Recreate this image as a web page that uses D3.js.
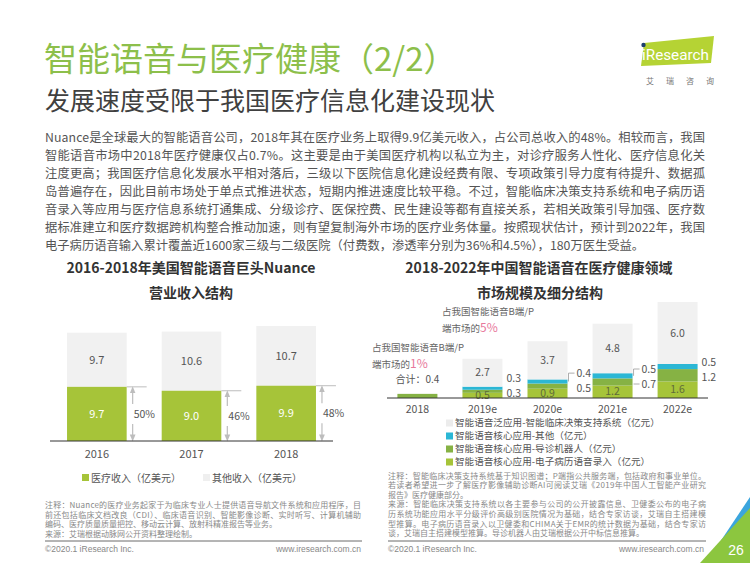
<!DOCTYPE html>
<html><head><meta charset="utf-8">
<script src="https://cdn.jsdelivr.net/npm/d3@7/dist/d3.min.js"></script>
<style>
html,body{margin:0;padding:0;background:#fff;}
svg{display:block;font-family:"Noto Sans CJK SC","Noto Sans",sans-serif;}
</style></head>
<body>
<svg id="c" width="750" height="563"></svg>
<script>
// ---------- data ----------
const leftYears = ["2016", "2017", "2018"];
const medicalRevenue = [9.7, 9.0, 9.9];
const otherRevenue = [9.7, 10.6, 10.7];
const medicalShare = ["50%", "46%", "48%"];

const rightYears = ["2018", "2019e", "2020e", "2021e", "2022e"];
const emrVoiceInput = [0, 0.5, 0.9, 1.2, 1.6];
const guideRobot = [0, 0.3, 0.5, 0.7, 1.2];
const coreOther = [0, 0.3, 0.4, 0.5, 0.5];
const clinicalDecision = [0, 2.7, 3.7, 4.8, 6.0];
const marketTotals = [0.4, 3.8, 5.5, 7.2, 9.3];
const leaderYears = ["2020e", "2021e"];

const leftLegend = ["医疗收入（亿美元）", "其他收入（亿美元）"];
const rightLegend = [
  "智能语音泛应用-智能临床决策支持系统（亿元）",
  "智能语音核心应用-其他（亿元）",
  "智能语音核心应用-导诊机器人（亿元）",
  "智能语音核心应用-电子病历语音录入（亿元）"
];

const paragraph = [
  "Nuance是全球最大的智能语音公司，2018年其在医疗业务上取得9.9亿美元收入，占公司总收入的48%。相较而言，我国",
  "智能语音市场中2018年医疗健康仅占0.7%。这主要是由于美国医疗机构以私立为主，对诊疗服务人性化、医疗信息化关",
  "注度更高；我国医疗信息化发展水平相对落后，三级以下医院信息化建设经费有限、专项政策引导力度有待提升、数据孤",
  "岛普遍存在，因此目前市场处于单点式推进状态，短期内推进速度比较平稳。不过，智能临床决策支持系统和电子病历语",
  "音录入等应用与医疗信息系统打通集成、分级诊疗、医保控费、民生建设等都有直接关系，若相关政策引导加强、医疗数",
  "据标准建立和医疗数据跨机构整合推动加速，则有望复制海外市场的医疗业务体量。按照现状估计，预计到2022年，我国",
  "电子病历语音输入累计覆盖近1600家三级与二级医院（付费数，渗透率分别为36%和4.5%），180万医生受益。"
];
const leftNotes = [
  "注释：Nuance的医疗业务起家于为临床专业人士提供语音导航文件系统和应用程序，目",
  "前还包括临床文档改良（CDI）、临床语音识别、智能影像诊断、实时听写、计算机辅助",
  "编码、医疗质量质量把控、移动云计算、放射科精准报告等业务。",
  "来源：艾瑞根据动脉网公开资料整理绘制。"
];
const rightNotes = [
  "注释：智能临床决策支持系统基于知识图谱；P端指公共服务端，包括政府和事业单位。",
  "若读者希望进一步了解医疗影像辅助诊断AI可阅读艾瑞《2019年中国人工智能产业研究",
  "报告》医疗健康部分。",
  "来源：智能临床决策支持系统以各主要参与公司的公开披露信息、卫健委公布的电子病",
  "历系统功能应用水平分级评价高级别医院情况为基础，结合专家访谈，艾瑞自主搭建模",
  "型推算。电子病历语音录入以卫健委和CHIMA关于EMR的统计数据为基础，结合专家访",
  "谈，艾瑞自主搭建模型推算。导诊机器人由艾瑞根据公开中标信息推算。"
];

// ---------- colors ----------
const LIME = "#a6c439", MID = "#86b244", CYAN = "#2cb7d5", GRAY = "#f1f1f1";
const TXT = "#555";

const svg = d3.select("#c");
svg.append("rect").attr("width", 750).attr("height", 563).attr("fill", "#fff");

// ---------- header ----------
svg.append("text").attr("x", 44).attr("y", 71).attr("font-size", 33).attr("fill", "#8dbf4b")
  .text("智能语音与医疗健康（2/2）");
svg.append("text").attr("x", 45).attr("y", 110).attr("font-size", 25).attr("fill", "#404040")
  .text("发展速度受限于我国医疗信息化建设现状");

// logo
svg.append("polygon").attr("points", "644,43 714,36 711,63 641,66").attr("fill", "#b5d334");
svg.append("circle").attr("cx", 643.5).attr("cy", 45).attr("r", 2.2).attr("fill", "#1d3f6e");
svg.append("text").attr("x", 642).attr("y", 60).attr("font-size", 15).attr("fill", "#fff")
  .attr("font-family", "Roboto, sans-serif").attr("textLength", 67).attr("lengthAdjust", "spacingAndGlyphs")
  .text("iResearch");
["艾", "瑞", "咨", "询"].forEach((c, i) => {
  svg.append("text").attr("x", 646 + i * 20).attr("y", 84).attr("font-size", 8).attr("fill", "#777").text(c);
});

// paragraph
paragraph.forEach((line, i) => {
  const t = svg.append("text").attr("x", 45).attr("y", 142 + i * 18).attr("font-size", 12.3)
    .attr("fill", TXT).text(line);
  if (i < paragraph.length - 1) t.attr("textLength", 660).attr("lengthAdjust", "spacing");
});

// ---------- left chart ----------
const lg = svg.append("g");
lg.append("text").attr("x", 191).attr("y", 273).attr("text-anchor", "middle").attr("font-size", 14)
  .attr("font-weight", "bold").attr("fill", "#333").text("2016-2018年美国智能语音巨头Nuance");
lg.append("text").attr("x", 191).attr("y", 298).attr("text-anchor", "middle").attr("font-size", 14)
  .attr("font-weight", "bold").attr("fill", "#333").text("营业收入结构");

const lx = d3.scaleBand().domain(leftYears).range([50, 333]).paddingInner(0.37).paddingOuter(0.18);
const ly = d3.scaleLinear().domain([0, 20.6]).range([441, 326]);
const leftData = leftYears.map((y, i) => ({year: y, med: medicalRevenue[i], oth: otherRevenue[i], share: medicalShare[i]}));

lg.selectAll(".oth").data(leftData).join("rect")
  .attr("x", d => lx(d.year)).attr("width", lx.bandwidth())
  .attr("y", d => ly(d.med + d.oth)).attr("height", d => ly(d.med) - ly(d.med + d.oth)).attr("fill", GRAY);
lg.selectAll(".med").data(leftData).join("rect")
  .attr("x", d => lx(d.year)).attr("width", lx.bandwidth())
  .attr("y", d => ly(d.med)).attr("height", d => ly(0) - ly(d.med)).attr("fill", LIME);
lg.selectAll(".othl").data(leftData).join("text")
  .attr("x", d => lx(d.year) + lx.bandwidth() / 2).attr("y", d => ly(d.med + d.oth / 2))
  .attr("dy", "0.35em").attr("text-anchor", "middle").attr("font-size", 11).attr("fill", TXT)
  .text(d => d.oth.toFixed(1));
lg.selectAll(".medl").data(leftData).join("text")
  .attr("x", d => lx(d.year) + lx.bandwidth() / 2).attr("y", d => ly(d.med / 2))
  .attr("dy", "0.35em").attr("text-anchor", "middle").attr("font-size", 11).attr("fill", "#fff")
  .text(d => d.med.toFixed(1));

// share arrows
const defs = svg.append("defs");
defs.append("marker").attr("id", "ah").attr("viewBox", "0 0 10 10").attr("refX", 5).attr("refY", 5)
  .attr("markerWidth", 6).attr("markerHeight", 6).attr("orient", "auto-start-reverse")
  .append("path").attr("d", "M0,1 L10,5 L0,9 z").attr("fill", "#bdbdbd");
leftData.forEach(d => {
  const r = lx(d.year) + lx.bandwidth();
  const top = ly(d.med), bot = ly(0), mid = (top + bot) / 2;
  const ax = r + 6;
  lg.append("line").attr("x1", r).attr("x2", r + 20).attr("y1", top).attr("y2", top)
    .attr("stroke", "#bdbdbd").attr("stroke-width", 1);
  lg.append("line").attr("x1", ax).attr("x2", ax).attr("y1", mid - 10).attr("y2", top + 3)
    .attr("stroke", "#bdbdbd").attr("stroke-width", 1.2).attr("marker-end", "url(#ah)");
  lg.append("line").attr("x1", ax).attr("x2", ax).attr("y1", mid + 10).attr("y2", bot - 3)
    .attr("stroke", "#bdbdbd").attr("stroke-width", 1.2).attr("marker-end", "url(#ah)");
  lg.append("text").attr("x", ax + 1).attr("y", mid).attr("dy", "0.35em").attr("font-size", 10.5)
    .attr("fill", TXT).text(d.share);
});
lg.append("line").attr("x1", 50).attr("x2", 333).attr("y1", ly(0)).attr("y2", ly(0))
  .attr("stroke", "#333").attr("stroke-width", 1);
const lxAxis = lg.append("g").attr("transform", `translate(0,${ly(0)})`)
  .call(d3.axisBottom(lx).tickSize(0).tickPadding(9));
lxAxis.select(".domain").remove();
lxAxis.selectAll("text").attr("font-size", 11).attr("fill", TXT).attr("font-family", "'Noto Sans CJK SC',sans-serif");

// left legend
const llx = [82, 203], lcol = [LIME, "#efefef"];
leftLegend.forEach((t, i) => {
  lg.append("rect").attr("x", llx[i]).attr("y", 474).attr("width", 7).attr("height", 7).attr("fill", lcol[i]);
  lg.append("text").attr("x", llx[i] + 9).attr("y", 478).attr("dy", "0.35em").attr("font-size", 10)
    .attr("fill", TXT).text(t);
});

// ---------- right chart ----------
const rg = svg.append("g");
rg.append("text").attr("x", 539).attr("y", 273).attr("text-anchor", "middle").attr("font-size", 14)
  .attr("font-weight", "bold").attr("fill", "#333").text("2018-2022年中国智能语音在医疗健康领域");
rg.append("text").attr("x", 540).attr("y", 298).attr("text-anchor", "middle").attr("font-size", 14)
  .attr("font-weight", "bold").attr("fill", "#333").text("市场规模及细分结构");

const rx = d3.scaleBand().domain(rightYears).range([387, 708]).paddingInner(0.385).paddingOuter(0.16);
const ry = d3.scaleLinear().domain([0, 9.3]).range([398, 302]);
const table = rightYears.map((y, i) => ({
  year: y, emr: emrVoiceInput[i], guide: guideRobot[i], other: coreOther[i], cds: clinicalDecision[i], total: marketTotals[i]
}));
const keys = ["emr", "guide", "other", "cds"];
const colors = {emr: LIME, guide: MID, other: CYAN, cds: GRAY};
const stacked = d3.stack().keys(keys)(table.filter(d => d.emr > 0));

rg.selectAll(".ser").data(stacked).join("g").attr("fill", s => colors[s.key])
  .selectAll("rect").data(s => s).join("rect")
  .attr("x", d => rx(d.data.year)).attr("width", rx.bandwidth())
  .attr("y", d => ry(d[1])).attr("height", d => ry(d[0]) - ry(d[1]));

// 2018: total only
const t0 = table.filter(d => d.emr === 0);
rg.selectAll(".tot").data(t0).join("rect")
  .attr("x", d => rx(d.year)).attr("width", rx.bandwidth())
  .attr("y", d => ry(d.total)).attr("height", d => ry(0) - ry(d.total)).attr("fill", MID);
rg.selectAll(".totl").data(t0).join("text")
  .attr("x", d => rx(d.year) + rx.bandwidth() / 2).attr("y", d => ry(d.total) - 14)
  .attr("dy", "0.35em").attr("text-anchor", "middle").attr("font-size", 10).attr("fill", TXT)
  .text(d => "合计：" + d.total.toFixed(1));

const st = table.filter(d => d.emr > 0);
// inside labels
rg.selectAll(".emrl").data(st).join("text")
  .attr("x", d => rx(d.year) + rx.bandwidth() / 2).attr("y", d => ry(d.emr / 2))
  .attr("dy", "0.35em").attr("text-anchor", "middle").attr("font-size", 10.5).attr("fill", "#5f6b3a")
  .text(d => d.emr.toFixed(1));
rg.selectAll(".cdsl").data(st).join("text")
  .attr("x", d => rx(d.year) + rx.bandwidth() / 2).attr("y", d => ry(d.total - d.cds / 2))
  .attr("dy", "0.35em").attr("text-anchor", "middle").attr("font-size", 10.5).attr("fill", TXT)
  .text(d => d.cds.toFixed(1));
// side labels
st.forEach(d => {
  const r = rx(d.year) + rx.bandwidth();
  const lead = leaderYears.includes(d.year);
  const gMid = ry(d.emr + d.guide / 2), oMid = ry(d.emr + d.guide + d.other / 2);
  const gy = gMid + 2;
  const oy = Math.min(oMid, gy - 15);
  const tx = lead ? r + 9 : r + 4;
  rg.append("text").attr("x", tx).attr("y", gy).attr("dy", "0.35em").attr("font-size", 10.5)
    .attr("fill", TXT).text(d.guide.toFixed(1));
  rg.append("text").attr("x", tx).attr("y", oy).attr("dy", "0.35em").attr("font-size", 10.5)
    .attr("fill", TXT).text(d.other.toFixed(1));
  if (lead) {
    rg.append("path").attr("d", `M${r + 1},${oMid} L${r + 1},${oy} L${r + 7},${oy}`)
      .attr("fill", "none").attr("stroke", "#999").attr("stroke-width", 0.8);
    if (d.year === leaderYears[1]) {
      rg.append("path").attr("d", `M${r + 1},${gy} L${r + 7},${gy}`)
        .attr("fill", "none").attr("stroke", "#999").attr("stroke-width", 0.8);
    }
  }
});
rg.append("line").attr("x1", 387).attr("x2", 708).attr("y1", ry(0)).attr("y2", ry(0))
  .attr("stroke", "#333").attr("stroke-width", 1);
const rxAxis = rg.append("g").attr("transform", `translate(0,${ry(0)})`)
  .call(d3.axisBottom(rx).tickSize(0).tickPadding(8));
rxAxis.select(".domain").remove();
rxAxis.selectAll("text").attr("font-size", 10.5).attr("fill", TXT).attr("font-family", "'Noto Sans CJK SC',sans-serif");

// annotations
function note(x, y, pct) {
  rg.append("text").attr("x", x).attr("y", y).attr("font-size", 9.5).attr("fill", "#666").text("占我国智能语音B端/P");
  const t = rg.append("text").attr("x", x).attr("y", y + 17).attr("font-size", 9.5).attr("fill", "#666");
  t.append("tspan").text("端市场的");
  t.append("tspan").attr("font-size", 12).attr("fill", "#e8799b").text(pct);
}
note(372, 351, "1%");
note(442, 315, "5%");

// right legend
const legCols = ["#ececec", CYAN, MID, LIME];
rightLegend.forEach((t, i) => {
  const y = 423 + i * 13;
  rg.append("rect").attr("x", 446).attr("y", y - 3.5).attr("width", 7).attr("height", 7).attr("fill", legCols[i]);
  rg.append("text").attr("x", 455).attr("y", y).attr("dy", "0.35em").attr("font-size", 9.6).attr("fill", TXT).text(t);
});

// ---------- notes & footer ----------
leftNotes.forEach((t, i) => {
  const e = svg.append("text").attr("x", 45).attr("y", 508 + i * 9.7).attr("font-size", 8).attr("fill", "#888").text(t);
  if (i < 2) e.attr("textLength", 316).attr("lengthAdjust", "spacing");
});
rightNotes.forEach((t, i) => {
  const e = svg.append("text").attr("x", 388).attr("y", 478.5 + i * 9.6).attr("font-size", 8).attr("fill", "#888").text(t);
  if ([0, 1, 3, 4, 5].includes(i)) e.attr("textLength", 318).attr("lengthAdjust", "spacing");
});
svg.append("line").attr("x1", 45).attr("x2", 362).attr("y1", 541).attr("y2", 541).attr("stroke", "#444").attr("stroke-width", 0.8);
svg.append("line").attr("x1", 388).attr("x2", 706).attr("y1", 541).attr("y2", 541).attr("stroke", "#444").attr("stroke-width", 0.8);
[[45, "start", "©2020.1 iResearch Inc."], [361, "end", "www.iresearch.com.cn"],
 [388, "start", "©2020.1 iResearch Inc."], [704, "end", "www.iresearch.com.cn"]].forEach(([x, a, t]) => {
  svg.append("text").attr("x", x).attr("y", 552).attr("text-anchor", a).attr("font-size", 8.5)
    .attr("fill", "#888").attr("font-family", "Arial, 'Liberation Sans', sans-serif").text(t);
});

// corner
svg.append("polygon").attr("points", "716,548 750,497 750,522").attr("fill", "#3ba5dd");
svg.append("polygon").attr("points", "700,563 750,508 750,563").attr("fill", "#8cc63f");
svg.append("text").attr("x", 736).attr("y", 555).attr("text-anchor", "middle").attr("font-size", 14)
  .attr("fill", "#fff").attr("font-family", "Arial, 'Liberation Sans', sans-serif").text("26");
</script>
</body></html>
